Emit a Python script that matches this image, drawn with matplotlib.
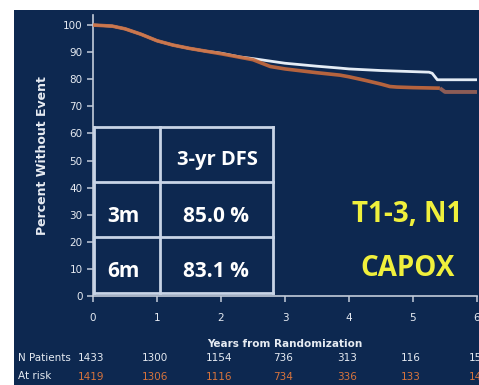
import matplotlib
matplotlib.use('Agg')
import matplotlib.pyplot as plt
from matplotlib.patches import Rectangle

# disease-free survival, 3 months arm
t_3m = [0, 0.3, 0.5, 0.75, 1.0, 1.25, 1.5, 1.75, 2.0, 2.3, 2.5, 3.0, 3.5, 3.86, 4.0, 4.5, 5.0, 5.25, 5.3, 5.38, 6.0]
dfs_3m = [100, 99.6, 98.6, 96.6, 94.2, 92.6, 91.4, 90.4, 89.6, 88.2, 87.6, 85.9, 84.8, 84.1, 83.8, 83.2, 82.8, 82.6, 82.2, 79.8, 79.8]
# 6 months arm
t_6m = [0, 0.3, 0.5, 0.75, 1.0, 1.25, 1.5, 1.75, 2.0, 2.5, 2.77, 3.0, 3.5, 3.86, 4.0, 4.25, 4.5, 4.64, 4.75, 5.0, 5.42]
dfs_6m = [100, 99.6, 98.6, 96.6, 94.2, 92.6, 91.4, 90.4, 89.4, 87.2, 84.7, 83.8, 82.4, 81.5, 80.9, 79.6, 78.2, 77.3, 77.1, 76.9, 76.7]
t_6m_tail = [5.42, 5.5, 6.0]
dfs_6m_tail = [76.7, 75.3, 75.3]

# summary table
arms = ['3m', '6m']
dfs_3yr = ['85.0 %', '83.1 %']

# numbers at risk
risk_years = [0, 1, 2, 3, 4, 5, 6]
n_risk_3m = ['1433', '1300', '1154', '736', '313', '116', '15']
n_risk_6m = ['1419', '1306', '1116', '734', '336', '133', '14']

navy = '#0d2850'
axis_col = '#c3ccda'
white = '#e4ecf5'
orange = '#c86a3c'
brown = '#8c5c56'
yellow = '#f0f03c'
grid_col = '#c8d4e6'

fig = plt.figure(figsize=(4.79, 3.85), dpi=100, facecolor='white')
fig.patches.append(Rectangle((14 / 479, 0), 1, 375 / 385, transform=fig.transFigure,
                             facecolor=navy, edgecolor='none', zorder=-10))

ax = fig.add_axes([93 / 479, 1 - 296 / 385, 384 / 479, 281 / 385])
ax.set_facecolor('none')
ax.set_xlim(0, 6)
ax.set_ylim(0, 103.7)

ax.plot(t_3m, dfs_3m, color=white, lw=2.0, solid_capstyle='butt', zorder=3)
ax.plot(t_6m, dfs_6m, color=orange, lw=2.6, alpha=0.9, solid_capstyle='butt', zorder=4)
ax.plot(t_6m_tail, dfs_6m_tail, color=brown, lw=2.8, solid_capstyle='butt', zorder=4)

for side in ['top', 'right']:
    ax.spines[side].set_visible(False)
for side in ['left', 'bottom']:
    ax.spines[side].set_color(axis_col)
    ax.spines[side].set_linewidth(1.2)
ax.set_xticks(range(0, 7))
ax.set_yticks(range(0, 101, 10))
ax.tick_params(colors=axis_col, labelcolor='#e6ebf2', labelsize=7.5, length=4, width=1.1,
               direction='out')
ax.tick_params(axis='x', pad=8)
ax.set_ylabel('Percent Without Event', color='#e6ebf2', fontsize=9, fontweight='bold', labelpad=10)
ax.set_xlabel('Years from Randomization', color='#e6ebf2', fontsize=7.5, fontweight='bold', labelpad=12)

# table grid
x_edges = [0.016, 1.05, 2.81]
y_edges = [62.4, 42.1, 21.8, 1.1]
for y in y_edges:
    ax.plot([x_edges[0], x_edges[-1]], [y, y], color=grid_col, lw=2, zorder=5)
for x in x_edges:
    ax.plot([x, x], [y_edges[-1], y_edges[0]], color=grid_col, lw=2, zorder=5)

tfont = dict(family='Open Sans', fontweight='bold', color='white', ha='center', va='baseline', zorder=6)
ax.text(1.94, 48.3, '3-yr DFS', fontsize=14.5, **tfont)
row_base = [27.3, 7.0]
for arm, val, yb in zip(arms, dfs_3yr, row_base):
    ax.text(0.47, yb, arm, fontsize=15, **tfont)
    ax.text(1.92, yb, val, fontsize=15, **tfont)

yfont = dict(family='Open Sans', fontweight='bold', color=yellow, ha='center', va='baseline',
             fontsize=20, zorder=6)
ax.text(4.91, 27.3, 'T1-3, N1', **yfont)
ax.text(4.92, 7.4, 'CAPOX', **yfont)

# numbers at risk
rfont = dict(ha='center', va='center', fontsize=7.5, clip_on=False)
fig.text(18 / 479, 1 - 358 / 385, 'N Patients', color='#e6ebf2', ha='left', va='center', fontsize=7.5)
fig.text(18 / 479, 1 - 376 / 385, 'At risk', color='#e6ebf2', ha='left', va='center', fontsize=7.5)
for yr, a, b in zip(risk_years, n_risk_3m, n_risk_6m):
    xf = (91 + yr * 64) / 479
    fig.text(xf, 1 - 358 / 385, a, color='#e6ebf2', **rfont)
    fig.text(xf, 1 - 377 / 385, b, color='#d8743c', **rfont)

fig.savefig('out.png', dpi=100, facecolor='white')
